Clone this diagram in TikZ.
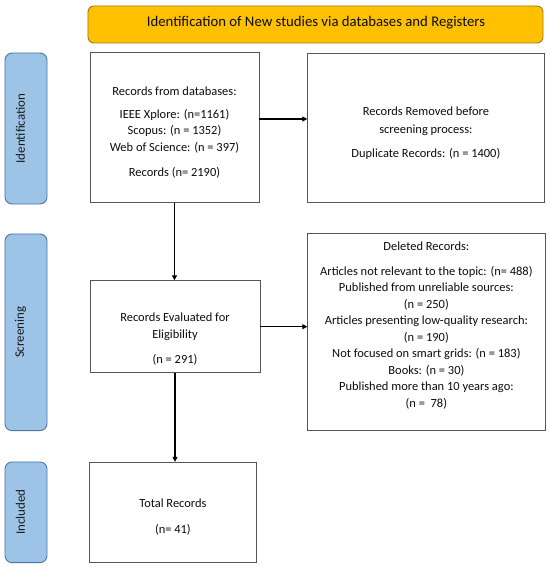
\documentclass[tikz,border=0pt]{standalone}
\usepackage{fontspec}
\setmainfont{Carlito}
\usetikzlibrary{arrows.meta}
\definecolor{hdrfill}{HTML}{FFC000}
\definecolor{hdrline}{HTML}{A07A10}
\definecolor{sidefill}{HTML}{9DC3E6}
\definecolor{sideline}{HTML}{4A78A8}
\definecolor{boxline}{HTML}{555555}
\tikzset{
  box/.style={draw=boxline, line width=0.9bp, fill=white, inner sep=0pt},
  side/.style={draw=sideline, line width=0.9bp, fill=sidefill, rounded corners=7bp, inner sep=0pt, minimum width=42bp},
  txt/.style={align=center, font=\fontsize{12.5}{16.55}\selectfont, inner sep=0pt, text=black!95},
  sidetxt/.style={rotate=90, font=\fontsize{13}{15}\selectfont, inner sep=0pt, text=black!90},
  arr/.style={line width=1.4bp, -{Triangle[length=5bp,width=5bp]}}
}
\begin{document}
\begin{tikzpicture}[x=1bp,y=-1bp]
\useasboundingbox (0,0) rectangle (550,567);
% header
\node[draw=hdrline, line width=0.9bp, fill=hdrfill, rounded corners=6bp, minimum width=455bp, minimum height=37bp, inner sep=0pt] (hdr) at (315.5,24.5) {};
\node[font=\fontsize{14.8}{16}\selectfont, text=black!95, inner sep=0pt] (hdrt) at (316,23) {Identification of New studies via databases and Registers};
% side labels
\node[side, minimum height=151bp] (s1) at (26,128.5) {};
\node[sidetxt] (s1t) at ([xshift=-5.5bp]s1.center) {Identification};
\node[side, minimum height=196.7bp] (s2) at (26,332.3) {};
\node[sidetxt] (s2t) at ([xshift=-5.5bp]s2.center) {Screening};
\node[side, minimum height=100.7bp] (s3) at (26,512.3) {};
\node[sidetxt] (s3t) at ([xshift=-5.5bp]s3.center) {Included};
% boxes
\node[box, minimum width=169bp, minimum height=149.3bp] (b1) at (174.5,127.4) {};
\node[txt] (t1) at (174.5,132.5) {Records from databases:\\[6.5bp]IEEE Xplore: (n=1161)\\Scopus: (n = 1352)\\Web of Science: (n = 397)\\[8.5bp]Records (n= 2190)};
\node[box, minimum width=236.3bp, minimum height=149bp] (b2) at (425.9,127.5) {};
\node[txt] (t2) at (425.9,133) {Records Removed before\\[1.4bp]screening process:\\[7.4bp]Duplicate Records: (n = 1400)};
\node[box, minimum width=170bp, minimum height=92bp] (b3) at (175,326.7) {};
\node[txt] (t3) at (175,339.3) {Records Evaluated for\\[0.4bp]Eligibility\\[9bp](n = 291)};
\node[box, minimum width=237.3bp, minimum height=196.7bp] (b4) at (426.4,331.7) {};
\node[txt] (t4) at (426.4,325.3) {Deleted Records:\\[8.4bp]Articles not relevant to the topic: (n= 488)\\Published from unreliable sources:\\(n = 250)\\Articles presenting low-quality research:\\(n = 190)\\Not focused on smart grids: (n = 183)\\Books: (n = 30)\\Published more than 10 years ago:\\(n =~~78)};
\node[box, minimum width=167.7bp, minimum height=100.4bp] (b5) at (172.9,512.5) {};
\node[txt] (t5) at (172.9,517) {Total Records\\[9.4bp](n= 41)};
% arrows
\draw[arr] ([yshift=8.4bp]b1.east) -- ([yshift=8.4bp]b1.east -| b2.west);
\draw[arr] (b1.south) -- (b1.south |- b3.north);
\draw[arr] (b3.east) -- (b3.east -| b4.west);
\draw[arr] (b3.south) -- (b3.south |- b5.north);
\end{tikzpicture}
\end{document}
